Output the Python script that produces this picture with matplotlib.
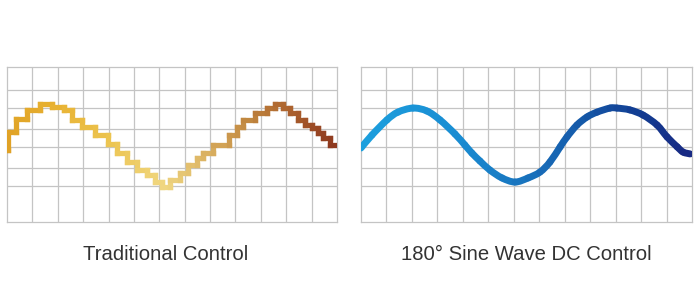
import numpy as np
import matplotlib
matplotlib.use("Agg")
import matplotlib.pyplot as plt
from matplotlib.collections import LineCollection
from matplotlib.colors import LinearSegmentedColormap
from matplotlib.path import Path
from matplotlib.patches import PathPatch

# ---------------- data ----------------
# Traditional control: stepped waveform (x in grid columns, level amplitude)
step_edges = [0.00, 0.04, 0.35, 0.79, 1.30, 1.77, 2.25, 2.56, 2.96, 3.47,
              3.98, 4.33, 4.73, 5.12, 5.52, 5.83, 6.11, 6.42, 6.82, 7.13,
              7.49, 7.72, 8.12, 8.75, 9.06, 9.30, 9.77, 10.24, 10.56, 10.87,
              11.15, 11.47, 11.74, 12.02, 12.25, 12.45, 12.73, 13.00]
step_levels = [-0.14, 0.35, 0.70, 0.95, 1.11, 1.03, 0.95, 0.68, 0.49, 0.27,
               0.03, -0.22, -0.46, -0.68, -0.81, -1.00, -1.14, -0.95, -0.76, -0.54,
               -0.35, -0.22, 0.00, 0.27, 0.49, 0.68, 0.86, 1.00, 1.11, 1.00,
               0.86, 0.68, 0.54, 0.46, 0.32, 0.19, 0.00]

# 180° sine wave DC control: smooth waveform
sine_x = [0.00, 0.43, 1.02, 1.45, 2.04, 2.59, 3.10, 3.69, 4.08, 4.36,
          4.67, 5.07, 5.54, 6.05, 6.56, 7.03, 7.42, 7.82, 8.09, 8.48,
          8.88, 9.27, 9.78, 10.05, 10.56, 11.08, 11.63, 12.02, 12.42, 12.65, 12.93]
sine_y = [-0.08, 0.27, 0.68, 0.89, 1.00, 0.92, 0.68, 0.30, 0.00, -0.22,
          -0.43, -0.68, -0.89, -1.00, -0.89, -0.73, -0.46, -0.05, 0.22, 0.54,
          0.76, 0.89, 1.00, 1.00, 0.95, 0.81, 0.54, 0.22, -0.05, -0.19, -0.24]

grid_x = list(range(1, 13))
grid_y = [1.49, 1.00, 0.43, -0.05, -0.62, -1.11]
titles = ["Traditional Control", "180° Sine Wave DC Control"]

# ---------------- style ----------------
grid_color = "#c4c4c4"
left_cmap = LinearSegmentedColormap.from_list("warm", [
    (0.00, (224/255, 162/255, 38/255)),
    (0.15, (232/255, 178/255, 50/255)),
    (0.31, (236/255, 196/255, 80/255)),
    (0.48, (240/255, 215/255, 130/255)),
    (0.60, (220/255, 180/255, 100/255)),
    (0.75, (190/255, 130/255, 60/255)),
    (0.87, (170/255, 95/255, 45/255)),
    (1.00, (140/255, 55/255, 30/255)),
])
right_cmap = LinearSegmentedColormap.from_list("cool", [
    (0.00, (28/255, 160/255, 222/255)),
    (0.30, (25/255, 140/255, 210/255)),
    (0.50, (25/255, 115/255, 190/255)),
    (0.70, (20/255, 85/255, 165/255)),
    (0.85, (18/255, 60/255, 145/255)),
    (1.00, (25/255, 40/255, 130/255)),
])

fig = plt.figure(figsize=(7, 3), dpi=100)
fig.patch.set_facecolor("white")

ax_l = fig.add_axes([7/700, 1 - 222/300, 330/700, 155/300])
ax_r = fig.add_axes([361/700, 1 - 222/300, 331/700, 155/300])

for ax in (ax_l, ax_r):
    ax.set_xlim(0, 13)
    ax.set_ylim(-2.08, 2.11)
    ax.set_xticks([])
    ax.set_yticks([])
    for gx in grid_x:
        ax.axvline(gx, color=grid_color, lw=0.9, zorder=1)
    for gy in grid_y:
        ax.axhline(gy, color=grid_color, lw=0.9, zorder=1)
    for s in ax.spines.values():
        s.set_color(grid_color)
        s.set_linewidth(0.9)

# stepped line
vx, vy = [], []
for i, lvl in enumerate(step_levels):
    vx += [step_edges[i], step_edges[i + 1]]
    vy += [lvl, lvl]
pts = np.column_stack([vx, vy])
segs = np.stack([pts[:-1], pts[1:]], axis=1)
mid = (segs[:, 0, 0] + segs[:, 1, 0]) / 2 / 13
lc = LineCollection(segs, colors=left_cmap(mid), linewidths=3.8,
                    capstyle="projecting", zorder=3)
ax_l.add_collection(lc)

# sine line: drawn as smooth cubic curves through the read points
P = np.column_stack([sine_x, sine_y])
n = len(P)
for i in range(n - 1):
    p0 = P[max(i - 1, 0)]
    p1 = P[i]
    p2 = P[i + 1]
    p3 = P[min(i + 2, n - 1)]
    c1 = p1 + (p2 - p0) / 6.0
    c2 = p2 - (p3 - p1) / 6.0
    path = Path([p1, c1, c2, p2],
                [Path.MOVETO, Path.CURVE4, Path.CURVE4, Path.CURVE4])
    col = right_cmap(((p1[0] + p2[0]) / 2) / 13)
    patch = PathPatch(path, facecolor="none", edgecolor=col, lw=5,
                      capstyle="round", joinstyle="round", zorder=3)
    ax_r.add_patch(patch)

fig.text(166/700, 1 - 254/300, titles[0], ha="center", va="center",
         fontsize=14.6, color="#333333", family="Liberation Sans")
fig.text(526/700, 1 - 254/300, titles[1], ha="center", va="center",
         fontsize=14.6, color="#333333", family="Liberation Sans")

fig.savefig("out.png", dpi=100, facecolor="white")
